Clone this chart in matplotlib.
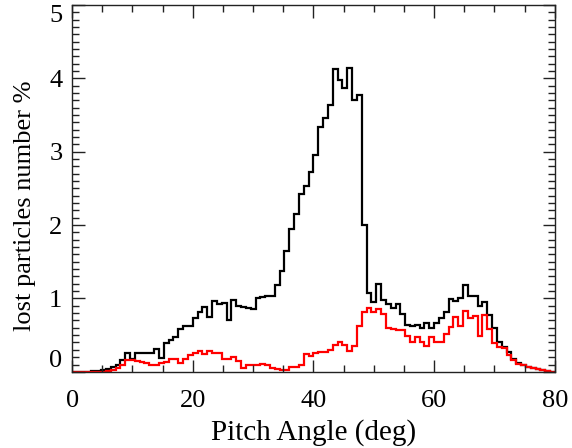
import matplotlib.pyplot as plt
import numpy as np

# pitch angle bins, 0.8 deg wide from 0 to 80
bin_edges = np.linspace(0, 80, 101)

all_lost = [
    0.0, 0.0, 0.0, 0.0, 0.01, 0.01, 0.02, 0.04, 0.07, 0.09,
    0.16, 0.25, 0.17, 0.26, 0.26, 0.26, 0.26, 0.31, 0.19, 0.39,
    0.43, 0.47, 0.58, 0.62, 0.62, 0.73, 0.82, 0.88, 0.75, 0.96,
    0.92, 0.94, 0.70, 0.98, 0.90, 0.88, 0.87, 0.85, 1.00, 1.02,
    1.03, 1.04, 1.18, 1.37, 1.65, 1.95, 2.15, 2.42, 2.53, 2.72,
    2.96, 3.33, 3.46, 3.64, 4.13, 3.98, 3.87, 4.14, 3.70, 3.77,
    2.00, 1.08, 0.95, 1.20, 0.98, 0.92, 0.87, 0.93, 0.79, 0.64,
    0.62, 0.64, 0.60, 0.66, 0.60, 0.67, 0.74, 0.82, 0.99, 0.97,
    1.00, 1.19, 1.04, 1.03, 0.90, 0.95, 0.77, 0.60, 0.40, 0.34,
    0.27, 0.18, 0.12, 0.09, 0.07, 0.05, 0.04, 0.03, 0.01, 0.0,
]

subset_lost = [
    0.0, 0.0, 0.0, 0.0, 0.0, 0.0, 0.0, 0.01, 0.03, 0.05,
    0.09, 0.16, 0.16, 0.15, 0.14, 0.12, 0.10, 0.10, 0.12, 0.14,
    0.18, 0.17, 0.12, 0.18, 0.23, 0.25, 0.28, 0.24, 0.28, 0.26,
    0.25, 0.18, 0.18, 0.20, 0.15, 0.05, 0.09, 0.09, 0.10, 0.11,
    0.09, 0.05, 0.04, 0.03, 0.03, 0.06, 0.06, 0.10, 0.24, 0.21,
    0.26, 0.27, 0.27, 0.30, 0.36, 0.40, 0.37, 0.29, 0.35, 0.62,
    0.82, 0.87, 0.82, 0.86, 0.79, 0.60, 0.58, 0.57, 0.57, 0.49,
    0.41, 0.48, 0.41, 0.35, 0.48, 0.40, 0.40, 0.51, 0.61, 0.75,
    0.62, 0.83, 0.73, 0.76, 0.49, 0.77, 0.58, 0.39, 0.34, 0.32,
    0.23, 0.16, 0.11, 0.09, 0.07, 0.05, 0.04, 0.03, 0.01, 0.0,
]

plt.rcParams['font.family'] = ['Liberation Serif', 'DejaVu Serif']

fig = plt.figure(figsize=(5.72, 4.48), dpi=100)
ax = fig.add_axes([0.126, 0.170, 0.844, 0.819])

ax.stairs(all_lost, bin_edges, color='black', linewidth=1.6)
ax.stairs(subset_lost, bin_edges, color='#ff0000', linewidth=1.6)

ax.set_xlim(0, 80)
ax.set_ylim(0, 5)
ax.set_xticks([0, 20, 40, 60, 80])
ax.set_xticks(np.arange(0, 81, 5), minor=True)
ax.set_yticks([0, 1, 2, 3, 4, 5])
ax.set_yticks(np.arange(0, 5.01, 0.1), minor=True)

ax.tick_params(which='both', direction='in', top=True, right=True,
               labelsize=19, color='#222222', width=1)
ax.tick_params(which='major', length=9)
ax.tick_params(axis='x', which='major', pad=13)
ax.tick_params(axis='y', which='major', pad=7)
ax.tick_params(which='minor', length=5)
for side in ax.spines.values():
    side.set_linewidth(1)
    side.set_color('#222222')

# keep the end labels inside the box like the original
ylabels = ax.get_yticklabels()
ylabels[0].set_verticalalignment('bottom')
ylabels[-1].set_verticalalignment('top')

ax.set_xlabel('Pitch Angle (deg)', fontsize=21)
ax.set_ylabel('lost particles number %', fontsize=19)
ax.xaxis.set_label_coords(0.5, -0.128)
ax.yaxis.set_label_coords(-0.074, 0.452)

fig.savefig('out.png', dpi=100)
